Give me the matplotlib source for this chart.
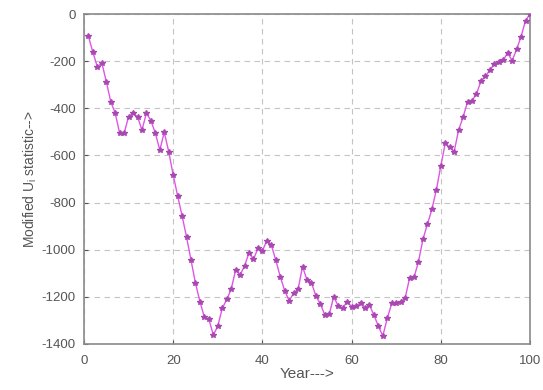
import numpy as np
import matplotlib
matplotlib.use('Agg')
import matplotlib.pyplot as plt

# ------------------------------ Data -----------------------------------

years = list(range(1, 101))
u_stat = [
    -95, -163, -224, -207, -287, -372, -421, -506, -506, -435,
    -422, -436, -492, -420, -452, -506, -577, -502, -584, -683,
    -772, -857, -947, -1044, -1143, -1220, -1287, -1295, -1362, -1324,
    -1249, -1211, -1168, -1086, -1107, -1069, -1013, -1041, -994, -1004,
    -962, -980, -1044, -1114, -1174, -1216, -1185, -1168, -1072, -1128,
    -1140, -1196, -1230, -1277, -1273, -1199, -1239, -1249, -1220, -1242,
    -1238, -1228, -1249, -1235, -1277, -1324, -1366, -1291, -1228, -1228,
    -1220, -1206, -1121, -1117, -1051, -956, -892, -829, -747, -645,
    -549, -566, -584, -492, -438, -372, -368, -339, -285, -265,
    -238, -212, -202, -195, -165, -198, -150, -96, -28, 0,
]

x_ticks = [0, 20, 40, 60, 80, 100]
y_ticks = [0, -200, -400, -600, -800, -1000, -1200, -1400]

# ------------------------------ Plot -----------------------------------

plt.rcParams['font.family'] = ['Liberation Sans', 'DejaVu Sans']
plt.rcParams['axes.unicode_minus'] = False

fig = plt.figure(figsize=(5.43, 3.9), dpi=100)
ax = fig.add_axes([0.1547, 0.118, 0.8213, 0.846])

ax.plot(years, u_stat, color='#e055e6', linewidth=1.0,
        marker='*', markersize=4, markeredgecolor='#a848b0',
        markerfacecolor='#a848b0', zorder=3)

ax.set_xlim(0, 100)
ax.set_ylim(-1400, 0)
ax.set_xticks(x_ticks)
ax.set_yticks(y_ticks)

ax.grid(True, linestyle=(0, (5, 4)), color='#c4c4c4', linewidth=0.8)
ax.tick_params(direction='in', colors='#555555', labelsize=9.5, length=3)
ax.tick_params(axis='x', pad=8)
ax.tick_params(axis='y', pad=6)
for s in ax.spines.values():
    s.set_color('#8a8a8a')
    s.set_linewidth(1.2)

ax.set_xlabel('Year--->', fontsize=11, color='#555555', labelpad=0)
ax.set_ylabel('Modified U$_\\mathregular{i}$ statistic-->', fontsize=10,
              color='#555555', labelpad=2)

fig.savefig('out.png', dpi=100)
